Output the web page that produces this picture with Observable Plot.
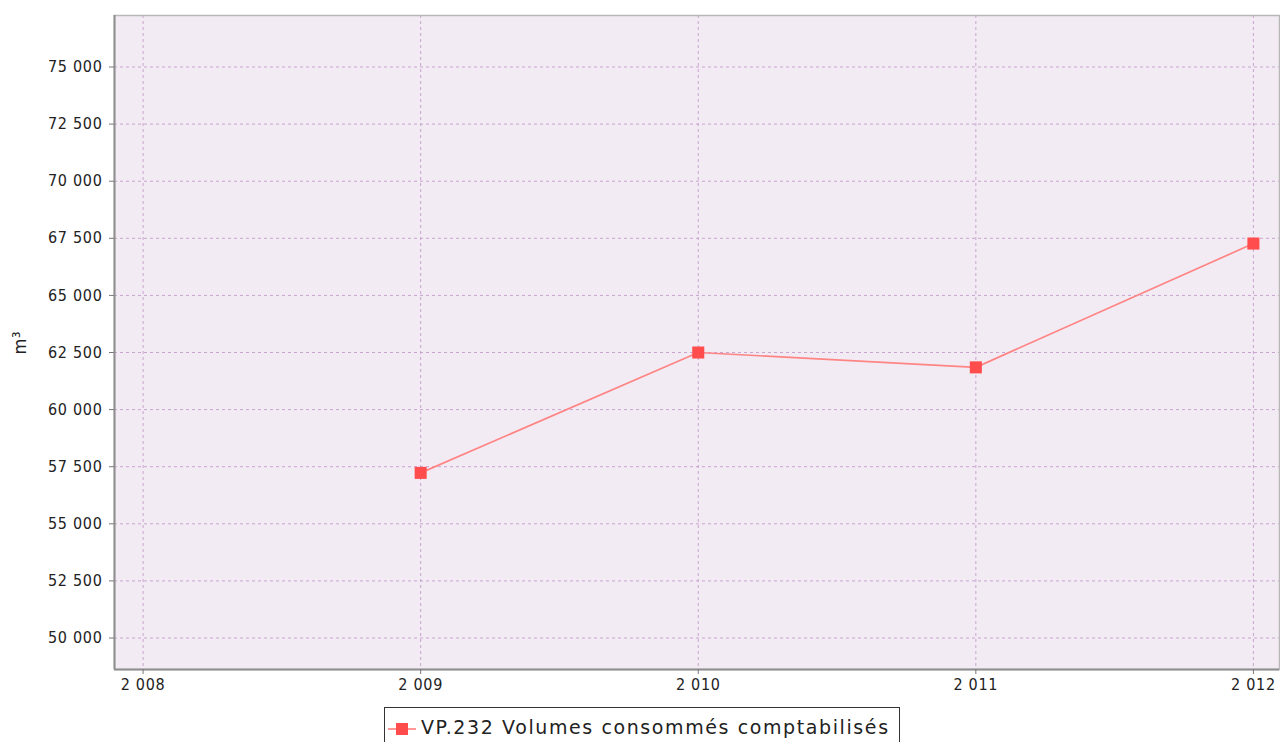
<!DOCTYPE html>
<html>
<head>
<meta charset="utf-8">
<script src="https://cdn.jsdelivr.net/npm/d3@7"></script>
<script src="https://cdn.jsdelivr.net/npm/@observablehq/plot@0.6"></script>
<style>
  html, body { margin: 0; padding: 0; background: #ffffff; overflow: hidden; }
  #wrap { position: relative; width: 1280px; height: 742px; font-family: "DejaVu Sans Condensed", "DejaVu Sans", sans-serif; font-stretch: condensed; }
  #legend { position: absolute; left: 384px; top: 707px; width: 516px; height: 44px; border: 1px solid #333; box-sizing: border-box; background: #fff; display: flex; align-items: flex-start; }
  #legend svg { margin-top: 11px; margin-left: 2px; }
  #legend span { font-family: "DejaVu Sans", sans-serif; font-stretch: normal; font-size: 19px; letter-spacing: 1.6px; color: #222; margin-left: 4px; margin-top: 8px; white-space: nowrap; }
</style>
</head>
<body>
<div id="wrap"></div>
<script>
const years = [2009, 2010, 2011, 2012];
const volumes = [57230, 62500, 61850, 67270];
const xTicks = [2008, 2009, 2010, 2011, 2012];
const yTicks = [50000, 52500, 55000, 57500, 60000, 62500, 65000, 67500, 70000, 72500, 75000];
const seriesName = "VP.232 Volumes consommés comptabilisés";
const yLabel = "m³";

const data = years.map((y, i) => ({year: y, value: volumes[i]}));
const fmt = v => d3.format(",")(v).replace(/,/g, " ");

const lineColor = "#ff8585";
const markColor = "#ff4d4d";
const gridColor = "#c8a4ce";
const fontFam = "'DejaVu Sans Condensed', 'DejaVu Sans', sans-serif";

const chart = Plot.plot({
  width: 1280,
  height: 705,
  marginLeft: 114,
  marginRight: 1,
  marginTop: 15,
  marginBottom: 36,
  style: {fontFamily: fontFam, fontSize: "16px", background: "#ffffff", color: "#222", fontStretch: "condensed", letterSpacing: "0.7px"},
  x: {domain: [2007.897, 2012.094], label: null},
  y: {domain: [48621, 77255], label: null},
  marks: [
    Plot.frame({fill: "#f3ebf4", stroke: null}),
    Plot.gridX(xTicks, {stroke: gridColor, strokeOpacity: 1, strokeDasharray: "3,3", strokeWidth: 1}),
    Plot.gridY(yTicks, {stroke: gridColor, strokeOpacity: 1, strokeDasharray: "3,3", strokeWidth: 1}),
    Plot.frame({stroke: "#b8b8b8", strokeWidth: 1.5}),
    Plot.ruleX([2007.897], {stroke: "#8f8f8f", strokeWidth: 2}),
    Plot.ruleY([48621], {stroke: "#8f8f8f", strokeWidth: 2}),
    Plot.axisY(yTicks, {tickFormat: fmt, tickSize: 5, tickPadding: 7, stroke: "#777", fontSize: 16, label: null}),
    Plot.axisX(xTicks, {tickFormat: fmt, tickSize: 5, tickPadding: 4, stroke: "#777", fontSize: 16, label: null}),
    Plot.text([yLabel], {frameAnchor: "left", dx: -94, dy: 12, rotate: -90, fontSize: 18, fill: "#222"}),
    Plot.line(data, {x: "year", y: "value", stroke: lineColor, strokeWidth: 1.7}),
    Plot.dot(data, {x: "year", y: "value", symbol: "square", r: 6.8, fill: markColor, stroke: null})
  ]
});

const wrap = document.getElementById("wrap");
wrap.appendChild(chart);

const legend = document.createElement("div");
legend.id = "legend";
legend.innerHTML = `<svg width="30" height="20"><line x1="1" y1="10" x2="29" y2="10" stroke="${lineColor}" stroke-width="1.7"/><rect x="9" y="4" width="12" height="12" fill="${markColor}"/></svg><span>${seriesName}</span>`;
wrap.appendChild(legend);
</script>
</body>
</html>
